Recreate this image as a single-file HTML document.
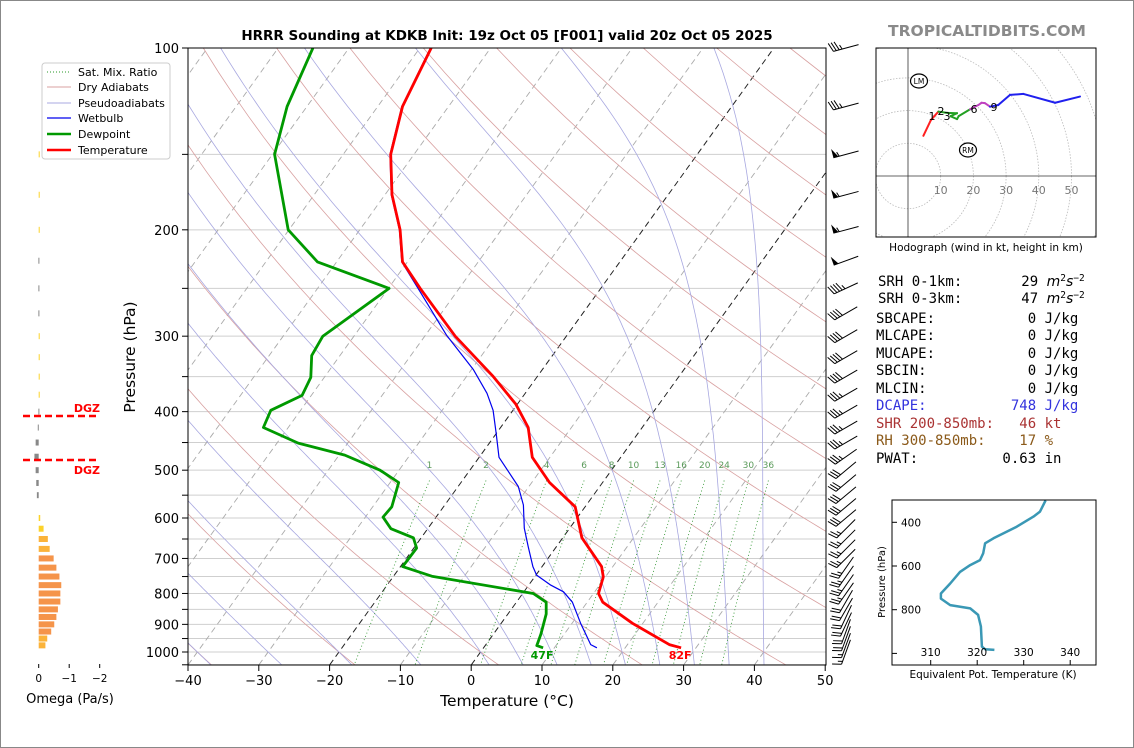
<!DOCTYPE html>
<html><head><meta charset="utf-8"><style>
body{margin:0;background:#fff;}
svg{display:block;font-family:"DejaVu Sans","Liberation Sans",sans-serif;}
.pre{white-space:pre;}
</style></head><body>
<svg id="fig" width="1134" height="748" viewBox="0 0 1134 748" xmlns="http://www.w3.org/2000/svg">
<rect x="0.5" y="0.5" width="1133" height="747" fill="#fff" stroke="#888"/>
<defs>
<clipPath id="mainClip"><rect x="188" y="48" width="638" height="617"/></clipPath>
<clipPath id="hodoClip"><rect x="876" y="48" width="220" height="189"/></clipPath>
<clipPath id="theClip"><rect x="892" y="500" width="204" height="165"/></clipPath>
</defs>
<text x="507" y="40" text-anchor="middle" font-size="13.5" font-weight="bold">HRRR Sounding at KDKB Init: 19z Oct 05 [F001] valid 20z Oct 05 2025</text>
<text x="987" y="36" text-anchor="middle" font-size="15.5" font-weight="bold" fill="#8a8a8a">TROPICALTIDBITS.COM</text>
<g id="bg" clip-path="url(#mainClip)"></g>
<g id="series" clip-path="url(#mainClip)"></g>
<g id="axes"></g>
<g id="barbs"></g>
<g id="omega"></g>
<g id="hodo"></g>
<g id="thetae"></g>
<g>
<rect x="42" y="63" width="128" height="96" rx="3" fill="#fff" stroke="#ccc"/>
<line x1="47" y1="72" x2="71" y2="72" stroke="#2a9a2a" stroke-dasharray="1,2"/>
<text x="78" y="76" font-size="11">Sat. Mix. Ratio</text>
<line x1="47" y1="87" x2="71" y2="87" stroke="#d8a0a0"/>
<text x="78" y="91" font-size="11">Dry Adiabats</text>
<line x1="47" y1="103" x2="71" y2="103" stroke="#a8a8e0"/>
<text x="78" y="107" font-size="11">Pseudoadiabats</text>
<line x1="47" y1="118" x2="71" y2="118" stroke="#0000ee" stroke-width="1.2"/>
<text x="78" y="122" font-size="11">Wetbulb</text>
<line x1="47" y1="134" x2="71" y2="134" stroke="#009900" stroke-width="2.5"/>
<text x="78" y="138" font-size="11">Dewpoint</text>
<line x1="47" y1="150" x2="71" y2="150" stroke="#ff0000" stroke-width="2.5"/>
<text x="78" y="154" font-size="11">Temperature</text>
</g>
<g font-family="'DejaVu Sans Mono','Liberation Mono',monospace" font-size="14">
<text class="pre" x="878" y="286">SRH 0-1km:       29 <tspan font-style="italic" font-family="DejaVu Sans,sans-serif">m</tspan><tspan font-size="9.5" dy="-5">2</tspan><tspan font-style="italic" dy="5" font-family="DejaVu Sans,sans-serif">s</tspan><tspan font-size="9.5" dy="-5">−2</tspan></text>
<text class="pre" x="878" y="303">SRH 0-3km:       47 <tspan font-style="italic" font-family="DejaVu Sans,sans-serif">m</tspan><tspan font-size="9.5" dy="-5">2</tspan><tspan font-style="italic" dy="5" font-family="DejaVu Sans,sans-serif">s</tspan><tspan font-size="9.5" dy="-5">−2</tspan></text>
<text class="pre" x="876" y="323">SBCAPE:           0 J/kg</text>
<text class="pre" x="876" y="340">MLCAPE:           0 J/kg</text>
<text class="pre" x="876" y="358">MUCAPE:           0 J/kg</text>
<text class="pre" x="876" y="375">SBCIN:            0 J/kg</text>
<text class="pre" x="876" y="393">MLCIN:            0 J/kg</text>
<text class="pre" x="876" y="410" fill="#3333dd">DCAPE:          748 J/kg</text>
<text class="pre" x="876" y="428" fill="#aa3333">SHR 200-850mb:   46 kt</text>
<text class="pre" x="876" y="445" fill="#8b5a1a">RH 300-850mb:    17 %</text>
<text class="pre" x="876" y="463">PWAT:          0.63 in</text>
</g>
</svg>
<script>
// ---------- data ----------
const tempP = [100,125,150,175,200,226,250,300,350,389,425,447,476,524,575,647,722,751,800,827,896,972,984];
const tempT = [-68.4,-66.5,-63.3,-59.0,-54.3,-50.7,-45.5,-35.7,-26.2,-20.2,-16.1,-14.5,-12.5,-7.5,-1.4,2.7,8.4,9.7,10.7,12.2,18.5,25.9,27.9];
const dewP = [100,125,150,200,226,250,300,323,351,376,398,425,451,472,500,524,575,598,625,647,673,722,749,800,827,865,934,976,984];
const dewT = [-85.1,-82.8,-79.7,-70.1,-62.7,-49.9,-54.4,-54.0,-51.9,-51.3,-54.2,-53.5,-47.0,-39.2,-32.7,-28.8,-27.3,-27.5,-25.2,-21.1,-19.6,-19.7,-14.6,1.5,4.2,5.4,6.7,7.3,8.4];
const wbP = [100,125,150,175,200,226,250,299,341,373,398,435,476,532,571,624,669,722,746,774,795,827,896,972,984];
const wbT = [-68.5,-66.6,-63.4,-59.1,-54.4,-50.8,-45.8,-37.0,-29.7,-25.4,-22.8,-20.0,-17.2,-11.5,-8.9,-6.4,-4.0,-1.3,0.1,3.0,5.6,7.9,11.2,14.8,16.0];
const pTickLabels = [100,200,300,400,500,600,700,800,900,1000];
const tTickLabels = [-40,-30,-20,-10,0,10,20,30,40,50];
const mixRatios = [1,2,4,6,8,10,13,16,20,24,30,36];
const barbP = [100,125,150,175,200,225,250,275,300,325,350,375,400,425,450,475,500,525,550,575,600,625,650,675,700,725,750,775,800,825,850,875,900,925,950,975,1000];
const barbSpd = [35,35,55,55,55,50,45,40,40,40,40,35,35,35,35,35,30,30,30,30,30,25,25,25,25,25,25,25,25,20,20,20,20,20,20,15,15];
const barbDir = [255,255,255,255,255,250,245,240,240,240,240,240,240,240,240,235,230,230,230,230,230,225,225,225,225,215,215,215,215,210,210,205,205,200,200,200,200];
const omegaP = [100,125,150,175,200,225,250,275,300,325,350,375,400,425,450,475,500,525,550,575,600,625,650,675,700,725,750,775,800,825,850,875,900,925,950,975];
const omegaV = [0,0,-0.01,-0.01,-0.01,0.01,0.01,0.01,-0.01,-0.01,-0.01,-0.01,0.01,0.03,0.1,0.14,0.1,0.08,0.06,0,-0.05,-0.16,-0.3,-0.36,-0.49,-0.58,-0.68,-0.74,-0.71,-0.71,-0.63,-0.58,-0.51,-0.41,-0.28,-0.22];
const hodoU = [4.7,7.0,9.3,12.0,15.0,13.0,15.0,15.5,19.0,21.5,22.5,23.5,25.1,27.6,31.2,35.3,45.0,52.6];
const hodoV = [12.3,17.1,19.7,19.3,19.2,18.3,17.4,18.3,20.4,21.7,22.4,22.3,21.2,21.7,24.8,25.1,22.4,24.3];
const hodoSeg = ['r','r','r','g','g','g','g','g','g','m','m','m','m','b','b','b','b','b'];
const thetaP = [300,351,374,420,473,496,542,573,596,627,680,726,749,779,794,824,877,969,981,984];
const thetaE = [334.7,333.5,332.1,328.5,323.5,321.7,321.3,320.6,318.5,316.3,314.2,312.2,312.2,314.2,318.5,320.2,320.8,321.0,321.7,323.7];
const omegaTicks = [0,-1,-2];
const hodoRings = [10,20,30,40,50,60,70];
const thetaTicks = [310,320,330,340];
const thetaPTicks = [400,600,800,1000];

// ---------- axis functions ----------
const NS='http://www.w3.org/2000/svg';
function yP(p){return 48+604*Math.log10(p/100);}
function xT(T,p){return 188+(T+40)*7.08+0.72*(665-yP(p));}
function mk(parent,tag,attrs){const e=document.createElementNS(NS,tag);for(const k in attrs)e.setAttribute(k,attrs[k]);parent.appendChild(e);return e;}
function poly(pts){return pts.map(q=>q[0].toFixed(1)+','+q[1].toFixed(1)).join(' ');}
const bg=document.getElementById('bg'), series=document.getElementById('series'), axes=document.getElementById('axes');

for(let p=100;p<=1050;p+=50){
  const l=mk(bg,'line',{x1:188,x2:826,y1:yP(p),y2:yP(p),stroke:'#cfcfcf','stroke-width':1});
  
  
}
for(let T=-130;T<=50;T+=10){
  const hi=(T===0||T===-20);
  const l=mk(bg,'line',{x1:xT(T,1050),y1:yP(1050),x2:xT(T,100),y2:yP(100),stroke:hi?'#222':'#aaa','stroke-dasharray':'6,4','stroke-width':hi?1:0.9});
  
  
}
for(let th=-40;th<=220;th+=20){
  const pts=[];for(let p=100;p<=1050;p+=10){pts.push([xT((th+273.15)*Math.pow(p/1000,0.2857)-273.15,p),yP(p)]);}
  const l=mk(bg,'polyline',{points:poly(pts),fill:'none',stroke:'#d8a0a0','stroke-width':0.8});
  
  
}
function es(Tc){return 6.112*Math.exp(17.67*Tc/(Tc+243.5));}
function dTdp(T,p){const Tc=T-273.15;const e=es(Tc);const rs=0.622*e/Math.max(p-e,1e-3);const Rd=287.04,Cp=1005.7,Lv=2.501e6;return (Rd*T+Lv*rs)/(p*(Cp+Lv*Lv*rs*0.622/(Rd*T*T)));}
const moistStarts=[-40,-30,-20,-10,0,5,10,15,20,25,30,35,40];
moistStarts.forEach(t0=>{
  let pts=[];let T=t0+273.15;
  for(let p=1000;p>=100;p-=5){pts.push([xT(T-273.15,p),yP(p)]);T-=dTdp(T,p)*5;}
  T=t0+273.15;const low=[];for(let p=1000;p<=1050;p+=5){low.push([xT(T-273.15,p),yP(p)]);T+=dTdp(T,p)*5;}
  pts=low.reverse().concat(pts);
  const l=mk(bg,'polyline',{points:poly(pts),fill:'none',stroke:'#a8a8e0','stroke-width':0.8});
  
  
});
function tdFromW(w,p){const e=w*p/(622+w);const a=Math.log(e/6.112);return 243.5*a/(17.67-a);}
mixRatios.forEach(w=>{
  const pts=[];for(let p=520;p<=1050;p+=10)pts.push([xT(tdFromW(w,p),p),yP(p)]);
  const l=mk(bg,'polyline',{points:poly(pts),fill:'none',stroke:'#3a9a3a','stroke-width':0.9,'stroke-dasharray':'1,2.5'});
  
  
  const t=mk(bg,'text',{x:xT(tdFromW(w,520),520),y:468,'font-size':9,fill:'#5a9a5a','text-anchor':'middle'});
  t.textContent=w;
  
  
});
function prof(P,T,color,w,name){
  const l=mk(series,'polyline',{points:poly(P.map((p,i)=>[xT(T[i],p),yP(p)])),fill:'none',stroke:color,'stroke-width':w,'stroke-linejoin':'round'});
  
  
}
prof(wbP,wbT,'#0000ee',1.2,'wetbulb-line');
prof(dewP,dewT,'#009900',2.8,'dewpoint-line');
prof(tempP,tempT,'#ff0000',2.8,'temperature-line');
const sfcT=tempT[tempT.length-1], sfcTd=dewT[dewT.length-1];
let t1=mk(series,'text',{x:xT(sfcT,tempP[tempP.length-1])-1,y:659,'font-size':11,'font-weight':'bold',fill:'#ff0000','text-anchor':'middle'});
t1.textContent=Math.round(sfcT*9/5+32)+'F';


let t2=mk(series,'text',{x:xT(sfcTd,dewP[dewP.length-1])-1,y:659,'font-size':11,'font-weight':'bold',fill:'#009900','text-anchor':'middle'});
t2.textContent=Math.round(sfcTd*9/5+32)+'F';



let fr=mk(axes,'rect',{x:188,y:48,width:638,height:617,fill:'none',stroke:'#000','stroke-width':1});


for(let p=100;p<=1050;p+=50){
  const tk=mk(axes,'line',{x1:182,x2:188,y1:yP(p),y2:yP(p),stroke:'#000'});
  
  
}
pTickLabels.forEach(p=>{
  const t=mk(axes,'text',{x:179,y:yP(p)+5,'font-size':13,'text-anchor':'end'});t.textContent=p;
  
  
});
tTickLabels.forEach(T=>{
  const x=188+(T+40)*7.08;
  const tk=mk(axes,'line',{x1:x,x2:x,y1:665,y2:671,stroke:'#000'});
  
  
  const t=mk(axes,'text',{x:x,y:685,'font-size':13,'text-anchor':'middle'});t.textContent=(T<0?'\u2212':'')+Math.abs(T);
  
  
});
let xl=mk(axes,'text',{x:507,y:706,'font-size':15.5,'text-anchor':'middle'});xl.textContent='Temperature (\u00b0C)';


let yl=mk(axes,'text',{x:135,y:357,'font-size':15.5,'text-anchor':'middle',transform:'rotate(-90 135 357)'});yl.textContent='Pressure (hPa)';



const barbs=document.getElementById('barbs');
barbP.forEach((p,i)=>{
  const g=mk(barbs,'g',{});
  
  
  const th=barbDir[i]*Math.PI/180;
  const dx=Math.sin(th), dy=-Math.cos(th);
  const cx=846, cy=yP(p), L=26;
  const tip=[cx-dx*L/2,cy-dy*L/2], end=[cx+dx*L/2,cy+dy*L/2];
  mk(g,'line',{x1:tip[0],y1:tip[1],x2:end[0],y2:end[1],stroke:'#000','stroke-width':1});
  const px=-dy, py=dx;
  let spd=Math.round(barbSpd[i]/5)*5, pos=0;
  const bl=9;
  while(spd>=50){
    const a=[end[0]-dx*pos,end[1]-dy*pos], b=[end[0]-dx*(pos+5),end[1]-dy*(pos+5)];
    const c=[a[0]+px*bl,a[1]+py*bl];
    mk(g,'polygon',{points:poly([a,c,b]),fill:'#000'});
    pos+=6;spd-=50;
  }
  while(spd>=10){
    const a=[end[0]-dx*pos,end[1]-dy*pos];
    mk(g,'line',{x1:a[0],y1:a[1],x2:a[0]+px*bl+dx*3,y2:a[1]+py*bl+dy*3,stroke:'#000','stroke-width':1});
    pos+=3;spd-=10;
  }
  if(spd>=5){
    if(pos===0)pos=3;
    const a=[end[0]-dx*pos,end[1]-dy*pos];
    mk(g,'line',{x1:a[0],y1:a[1],x2:a[0]+px*bl/2+dx*1.5,y2:a[1]+py*bl/2+dy*1.5,stroke:'#000','stroke-width':1});
  }
});

const om=document.getElementById('omega');
function xO(v){return 38.7-v*30.5;}
omegaP.forEach((p,i)=>{
  const v=omegaV[i];if(v===0)return;const x1=xO(0),x2=xO(v);
  const a=Math.abs(v);
  const col=v>0?'#888':(a<0.2?'#fcd22a':(a<0.4?'#fbb33a':'#f5944a'));
  const r=mk(om,'rect',{x:Math.min(x1,x2),y:yP(p)-3,width:Math.max(Math.abs(x2-x1),1),height:6,fill:col});
  
  
});
omegaTicks.forEach(v=>{
  const tk=mk(om,'line',{x1:xO(v),x2:xO(v),y1:664,y2:668,stroke:'#000'});
  
  
  const t=mk(om,'text',{x:xO(v),y:682,'font-size':10.5,'text-anchor':'middle'});t.textContent=(v<0?'\u2212':'')+Math.abs(v);
  
  
});
let ot=mk(om,'text',{x:70,y:703,'font-size':13,'text-anchor':'middle'});ot.textContent='Omega (Pa/s)';


[416,460].forEach((yy,k)=>{
  const l=mk(om,'line',{x1:23,x2:99,y1:yy,y2:yy,stroke:'#ff0000','stroke-width':2.5,'stroke-dasharray':'7,4'});
  
  
  const t=mk(om,'text',{x:100,y:k===0?412:474,'font-size':11,'font-weight':'bold',fill:'#ff0000','text-anchor':'end'});t.textContent='DGZ';
  
  
});

const hd=document.getElementById('hodo');
const HX=908,HY=176,HS=3.27;
function hx(u){return HX+u*HS;} function hy(v){return HY-v*HS;}
const hc=mk(hd,'g',{'clip-path':'url(#hodoClip)'});
hodoRings.forEach(r=>{
  const c=mk(hc,'circle',{cx:HX,cy:HY,r:r*HS,fill:'none',stroke:'#bbb','stroke-dasharray':'1.5,1.5','stroke-width':0.8});
  
  
});
mk(hc,'line',{x1:876,x2:1096,y1:HY,y2:HY,stroke:'#333','stroke-width':0.8});
mk(hc,'line',{x1:HX,x2:HX,y1:48,y2:237,stroke:'#333','stroke-width':0.8});
const segCol={r:'#ff2020',g:'#22a022',m:'#c040c0',b:'#2020ee'};
for(let i=0;i<hodoU.length-1;i++){
  const c=segCol[hodoSeg[i+1]];
  const l=mk(hc,'line',{x1:hx(hodoU[i]),y1:hy(hodoV[i]),x2:hx(hodoU[i+1]),y2:hy(hodoV[i+1]),stroke:c,'stroke-width':2,'stroke-linecap':'round'});
  
  
}
[['1',932,120],['2',941,115],['3',947,120],['6',974,113],['9',994,111]].forEach(a=>{
  const t=mk(hd,'text',{x:a[1],y:a[2],'font-size':11,'text-anchor':'middle'});t.textContent=a[0];
  
  
});
[['LM',919,81],['RM',968,150]].forEach(a=>{
  const c=mk(hd,'ellipse',{cx:a[1],cy:a[2],rx:8.5,ry:7,fill:'#fff',stroke:'#000','stroke-width':1.2});
  
  
  const t=mk(hd,'text',{x:a[1],y:a[2]+3,'font-size':7.5,'text-anchor':'middle'});t.textContent=a[0];
  
  
});
hodoRings.slice(0,5).forEach(r=>{
  const t=mk(hd,'text',{x:hx(r),y:194,'font-size':11,fill:'#777','text-anchor':'middle'});t.textContent=r;
  
  
});
let hf=mk(hd,'rect',{x:876,y:48,width:220,height:189,fill:'none',stroke:'#000'});


let ht=mk(hd,'text',{x:986,y:251,'font-size':10.5,'text-anchor':'middle'});ht.textContent='Hodograph (wind in kt, height in km)';



const te=document.getElementById('thetae');
function tx(t){return 930.7+(t-310)*4.65;} function ty(p){return 522.3+(p-400)*0.2185;}
let tl=mk(mk(te,'g',{'clip-path':'url(#theClip)'}),'polyline',{points:poly(thetaP.map((p,i)=>[tx(thetaE[i]),ty(p)])),fill:'none',stroke:'#3a98b5','stroke-width':2.5,'stroke-linejoin':'round'});


let tf=mk(te,'rect',{x:892,y:500,width:204,height:165,fill:'none',stroke:'#000'});


thetaTicks.forEach(v=>{
  mk(te,'line',{x1:tx(v),x2:tx(v),y1:665,y2:660,stroke:'#000'});
  const t=mk(te,'text',{x:tx(v),y:656,'font-size':10.5,'text-anchor':'middle'});t.textContent=v;
  
  
});
thetaPTicks.forEach(p=>{
  mk(te,'line',{x1:892,x2:897,y1:ty(p),y2:ty(p),stroke:'#000'});
  if(p<1000){const t=mk(te,'text',{x:901,y:ty(p)+4,'font-size':10.5});t.textContent=p;
  
  }
});
let tyl=mk(te,'text',{x:885,y:582,'font-size':10,'text-anchor':'middle',transform:'rotate(-90 885 582)'});tyl.textContent='Pressure (hPa)';


let txl=mk(te,'text',{x:993,y:678,'font-size':10.5,'text-anchor':'middle'});txl.textContent='Equivalent Pot. Temperature (K)';


</script>
</body></html>
